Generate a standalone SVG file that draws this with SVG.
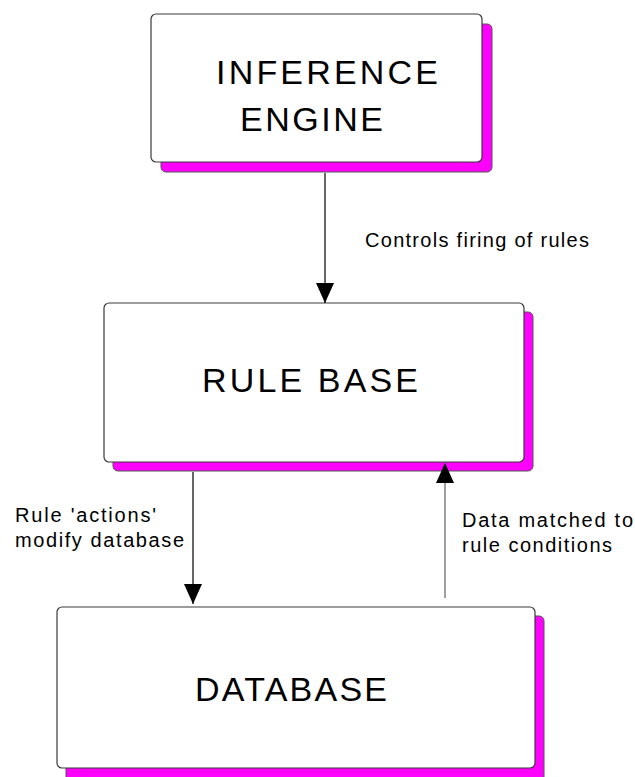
<svg xmlns="http://www.w3.org/2000/svg" width="635" height="777" viewBox="0 0 635 777">
  <style>
    .shadow { fill: #FF00FF; stroke: #555555; stroke-width: 1; }
    .box { fill: #FFFFFF; stroke: #3a3a3a; stroke-width: 1.2; }
    .big { font-family: "Liberation Sans", Arial, sans-serif; font-size: 34px; fill: #000000; }
    .small { font-family: "Liberation Sans", Arial, sans-serif; font-size: 20px; fill: #000000; }
    .conn { fill: none; stroke: #000000; stroke-width: 1.2; }
    .conn-grey { fill: none; stroke: #777777; stroke-width: 1.4; }
  </style>
  <defs>
    <marker id="arrow" markerUnits="userSpaceOnUse" markerWidth="20" markerHeight="18" refX="20" refY="9" orient="auto" viewBox="0 0 20 18">
      <path d="M0,0 L20,9 L0,18 Z" fill="#000000"/>
    </marker>
  </defs>
  <rect width="635" height="777" fill="#FFFFFF"/>

  <g id="inference-engine">
    <rect class="shadow" x="161" y="24" width="331" height="148" rx="5"/>
    <rect class="box" x="151" y="14" width="331" height="148" rx="5"/>
    <text class="big" x="216" y="84" textLength="222" lengthAdjust="spacing">INFERENCE</text>
    <text class="big" x="240" y="131" textLength="143" lengthAdjust="spacing">ENGINE</text>
  </g>

  <g id="rule-base">
    <rect class="shadow" x="113" y="312" width="420" height="159" rx="5"/>
    <rect class="box" x="104" y="303" width="420" height="159" rx="5"/>
    <text class="big" x="202" y="392" textLength="216" lengthAdjust="spacing">RULE BASE</text>
  </g>

  <g id="database">
    <rect class="shadow" x="66" y="616" width="478" height="170" rx="5"/>
    <rect class="box" x="57" y="607" width="478" height="161" rx="5"/>
    <text class="big" x="195" y="701" textLength="192" lengthAdjust="spacing">DATABASE</text>
  </g>

  <g id="connectors">
    <line class="conn" x1="325" y1="173" x2="325" y2="303" marker-end="url(#arrow)"/>
    <line class="conn" x1="193" y1="472" x2="193" y2="604" marker-end="url(#arrow)"/>
    <line class="conn-grey" x1="445" y1="598" x2="445" y2="463" marker-end="url(#arrow)"/>
    <text class="small" x="365" y="247" textLength="224" lengthAdjust="spacing">Controls firing of rules</text>
    <text class="small" x="15" y="522" textLength="141" lengthAdjust="spacing">Rule 'actions'</text>
    <text class="small" x="15" y="547" textLength="169" lengthAdjust="spacing">modify database</text>
    <text class="small" x="462" y="527" textLength="171" lengthAdjust="spacing">Data matched to</text>
    <text class="small" x="462" y="552" textLength="150" lengthAdjust="spacing">rule conditions</text>
  </g>
</svg>
